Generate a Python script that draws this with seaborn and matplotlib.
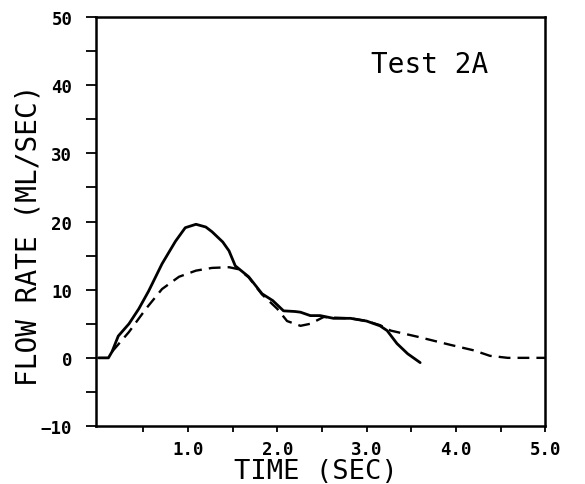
import pandas as pd
import matplotlib
matplotlib.use("Agg")
import matplotlib.pyplot as plt
import seaborn as sns

# measured curve (solid)
t_meas = [0.0, 0.11, 0.15, 0.22, 0.34, 0.45, 0.56, 0.71, 0.86, 0.97, 1.09, 1.20,
          1.27, 1.39, 1.46, 1.53, 1.68, 1.83, 1.95, 2.07, 2.20, 2.26, 2.37, 2.48,
          2.63, 2.82, 3.00, 3.15, 3.23, 3.34, 3.46, 3.60]
q_meas = [0.0, 0.0, 0.9, 3.2, 5.0, 7.2, 9.8, 13.8, 17.1, 19.1, 19.6, 19.2,
          18.5, 17.0, 15.7, 13.5, 11.9, 9.4, 8.4, 6.9, 6.8, 6.7, 6.2, 6.2,
          5.8, 5.8, 5.4, 4.7, 4.0, 2.1, 0.6, -0.7]

# model curve (dashed)
t_model = [0.15, 0.34, 0.53, 0.71, 0.90, 1.09, 1.27, 1.46, 1.57, 1.68, 1.83, 2.00,
           2.11, 2.26, 2.37, 2.52, 2.63, 2.82, 3.00, 3.15, 3.27, 3.57, 3.94, 4.20,
           4.38, 4.58, 5.00]
q_model = [0.9, 3.8, 7.2, 10.1, 11.9, 12.8, 13.2, 13.3, 13.0, 11.8, 9.3, 7.2,
           5.4, 4.7, 5.0, 6.0, 5.9, 5.8, 5.4, 4.8, 4.0, 3.1, 1.9, 1.1,
           0.3, 0.0, 0.0]

x_ticks = [0.5, 1.0, 1.5, 2.0, 2.5, 3.0, 3.5, 4.0, 4.5, 5.0]
x_labels = ["", "1.0", "", "2.0", "", "3.0", "", "4.0", "", "5.0"]
y_ticks = [-10, 0, 10, 20, 30, 40, 50]

meas = pd.DataFrame({"t": t_meas, "q": q_meas})
model = pd.DataFrame({"t": t_model, "q": q_model})

sns.set_style("ticks", {"text.color": "black", "axes.labelcolor": "black",
                        "xtick.color": "black", "ytick.color": "black"})
plt.rcParams["font.family"] = ["DejaVu Sans Mono"]

fig = plt.figure(figsize=(5.85, 4.85), dpi=100)
ax = fig.add_axes([0.164, 0.1196, 0.768, 0.843])

sns.lineplot(data=meas, x="t", y="q", ax=ax, color="black", lw=2.0, sort=False)
sns.lineplot(data=model, x="t", y="q", ax=ax, color="black", lw=1.7,
             linestyle=(0, (5, 3)), sort=False)

ax.set_xlim(-0.03, 5.0)
ax.set_ylim(-10, 50)
ax.set_xticks(x_ticks)
ax.set_xticklabels(x_labels)
ax.set_yticks(y_ticks)
ax.set_yticks([-5, 5, 15, 25, 35, 45], minor=True)

for s in ax.spines.values():
    s.set_linewidth(1.8)
    s.set_color("black")

ax.tick_params(axis="y", which="both", direction="out", length=7, width=1.3,
               pad=10, labelsize=12.5, colors="black")
ax.tick_params(axis="x", direction="out", length=4, width=1.3, pad=6,
               labelsize=12.5, colors="black")
for lab in ax.get_xticklabels() + ax.get_yticklabels():
    lab.set_fontweight("bold")

ax.set_xlabel("TIME (SEC)", fontsize=19.5, color="black")
ax.set_ylabel("FLOW RATE (ML/SEC)", fontsize=20, color="black")
ax.yaxis.set_label_coords(-0.118, 0.47)
ax.xaxis.set_label_coords(0.49, -0.078)

ax.text(3.71, 43.1, "Test 2A", fontsize=20, ha="center", va="center", color="black")

fig.savefig("out.png", dpi=100)
